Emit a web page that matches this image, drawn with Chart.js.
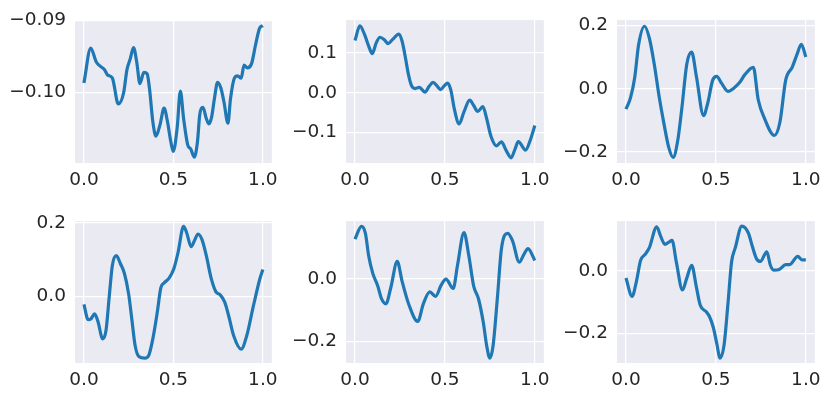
<!DOCTYPE html>
<html>
<head>
<meta charset="utf-8">
<script src="https://cdn.jsdelivr.net/npm/chart.js@4"></script>
<style>
  html, body { margin: 0; padding: 0; background: #fff; }
  #wrap { position: relative; width: 831px; height: 398px; overflow: hidden; }
  canvas { position: absolute; }
</style>
</head>
<body>
<div id="wrap"></div>
<script>
// values
const x1 = [0, 0.038, 0.069, 0.096, 0.114, 0.132, 0.159, 0.192, 0.222, 0.24, 0.259, 0.277, 0.295, 0.313, 0.335, 0.353, 0.367, 0.385, 0.403, 0.425, 0.448, 0.467, 0.485, 0.499, 0.521, 0.539, 0.557, 0.58, 0.597, 0.617, 0.635, 0.647, 0.665, 0.684, 0.698, 0.714, 0.729, 0.747, 0.765, 0.783, 0.805, 0.819, 0.841, 0.859, 0.879, 0.895, 0.913, 0.937, 0.96, 0.982, 1.0];
const y1 = [-0.09867, -0.09387, -0.09578, -0.09644, -0.0968, -0.09756, -0.098, -0.10156, -0.100, -0.09689, -0.09533, -0.09378, -0.09578, -0.09876, -0.0972, -0.0974, -0.09956, -0.104, -0.106, -0.10444, -0.10213, -0.104, -0.10667, -0.10809, -0.10489, -0.09978, -0.10356, -0.1072, -0.10778, -0.10889, -0.10667, -0.10311, -0.10204, -0.10356, -0.10431, -0.10333, -0.10089, -0.09858, -0.09933, -0.10133, -0.10422, -0.10089, -0.098, -0.09769, -0.098, -0.09622, -0.09658, -0.096, -0.09333, -0.09111, -0.09076];

const x2 = [0, 0.027, 0.054, 0.076, 0.096, 0.118, 0.139, 0.163, 0.184, 0.208, 0.244, 0.262, 0.28, 0.298, 0.316, 0.335, 0.358, 0.389, 0.412, 0.434, 0.458, 0.476, 0.497, 0.515, 0.533, 0.552, 0.579, 0.606, 0.638, 0.66, 0.682, 0.711, 0.732, 0.756, 0.787, 0.814, 0.841, 0.868, 0.89, 0.908, 0.949, 0.973, 1.0];
const y2 = [0.1306, 0.1677, 0.145, 0.117, 0.098, 0.125, 0.139, 0.133, 0.123, 0.133, 0.147, 0.129, 0.089, 0.044, 0.016, 0.0105, 0.0137, 0.0016, 0.016, 0.0258, 0.016, 0.008, 0.0177, 0.024, 0.0065, -0.040, -0.078, -0.048, -0.0185, -0.032, -0.047, -0.035, -0.0645, -0.109, -0.133, -0.123, -0.145, -0.163, -0.141, -0.1226, -0.1435, -0.121, -0.082];

const x3 = [0, 0.025, 0.049, 0.07, 0.103, 0.13, 0.157, 0.184, 0.211, 0.238, 0.262, 0.287, 0.31, 0.338, 0.365, 0.392, 0.431, 0.455, 0.482, 0.504, 0.532, 0.567, 0.599, 0.635, 0.662, 0.708, 0.735, 0.771, 0.825, 0.856, 0.888, 0.924, 0.951, 0.975, 1.0];
const y3 = [-0.064, -0.0285, 0.0377, 0.139, 0.198, 0.16, 0.0784, -0.0234, -0.11, -0.186, -0.2168, -0.166, -0.064, 0.078, 0.116, 0.0377, -0.0845, -0.044, 0.0275, 0.0397, 0.0173, -0.008, 0.002, 0.0224, 0.0458, 0.0682, -0.0336, -0.0947, -0.1476, -0.105, 0.0275, 0.0682, 0.109, 0.141, 0.1008];

const x4 = [0, 0.0235, 0.038, 0.06, 0.078, 0.105, 0.123, 0.141, 0.159, 0.181, 0.204, 0.226, 0.25, 0.268, 0.286, 0.307, 0.34, 0.363, 0.385, 0.409, 0.43, 0.448, 0.476, 0.503, 0.526, 0.557, 0.575, 0.599, 0.62, 0.638, 0.66, 0.684, 0.711, 0.738, 0.761, 0.787, 0.81, 0.837, 0.879, 0.91, 0.946, 0.982, 1.0];
const y4 = [-0.0218, -0.0638, -0.062, -0.048, -0.068, -0.116, -0.094, -0.0026, 0.0847, 0.111, 0.089, 0.0629, 0.0061, -0.0638, -0.134, -0.164, -0.1686, -0.16, -0.116, -0.0463, 0.0236, 0.0367, 0.0498, 0.076, 0.1196, 0.191, 0.172, 0.1354, 0.1546, 0.170, 0.1546, 0.111, 0.0498, 0.0122, 0.0044, -0.0157, -0.055, -0.1074, -0.144, -0.1074, -0.0288, 0.0454, 0.0734];

const x5 = [0, 0.036, 0.058, 0.076, 0.099, 0.127, 0.148, 0.172, 0.199, 0.235, 0.262, 0.298, 0.349, 0.38, 0.416, 0.448, 0.479, 0.506, 0.546, 0.57, 0.606, 0.633, 0.66, 0.687, 0.714, 0.732, 0.75, 0.768, 0.792, 0.814, 0.85, 0.877, 0.913, 0.94, 0.962, 1.0];
const y5 = [0.127, 0.168, 0.1456, 0.0738, 0.0174, -0.0236, -0.0646, -0.080, -0.0287, 0.0554, -0.0082, -0.080, -0.1364, -0.080, -0.042, -0.0564, -0.0205, -0.001, -0.0308, 0.0431, 0.1477, 0.0738, -0.0236, -0.0646, -0.1415, -0.2133, -0.254, -0.2133, -0.0595, 0.0944, 0.1456, 0.12, 0.0533, 0.079, 0.0964, 0.0585];

const x6 = [0, 0.034, 0.058, 0.081, 0.108, 0.13, 0.171, 0.193, 0.217, 0.238, 0.256, 0.28, 0.314, 0.338, 0.365, 0.392, 0.413, 0.446, 0.464, 0.486, 0.505, 0.523, 0.545, 0.567, 0.587, 0.608, 0.644, 0.681, 0.702, 0.726, 0.747, 0.783, 0.803, 0.821, 0.852, 0.888, 0.91, 0.955, 0.978, 1.0];
const y6 = [-0.0236, -0.082, -0.0338, 0.0328, 0.0533, 0.0738, 0.1405, 0.1097, 0.0841, 0.0913, 0.0974, 0.0277, -0.0615, -0.0236, 0.0174, -0.0544, -0.1108, -0.1313, -0.1467, -0.1826, -0.2338, -0.28, -0.239, -0.1056, 0.0277, 0.0738, 0.1426, 0.12, 0.079, 0.0379, 0.0297, 0.0605, 0.0174, 0.002, 0.004, 0.0195, 0.0195, 0.0462, 0.0349, 0.0349];

const xTicks = [0, 0.5, 1];
const yTicks1 = [-0.10, -0.09];
const yTicks2 = [-0.1, 0, 0.1];
const yTicks3 = [-0.2, 0, 0.2];
const yTicks4 = [0, 0.2];
const yTicks5 = [-0.2, 0];
const yTicks6 = [-0.2, 0];

const textColor = '#262626';
const font = { family: 'DejaVu Sans', size: 18.5 };
const wrap = document.getElementById('wrap');

const bgPlugin = {
  id: 'bg',
  beforeDraw(chart) {
    const a = chart.chartArea;
    const ctx = chart.ctx;
    ctx.save();
    ctx.fillStyle = '#eaeaf2';
    ctx.fillRect(a.left, a.top, a.right - a.left, a.bottom - a.top);
    ctx.restore();
  }
};

function fmt(v, d) {
  return v.toFixed(d).replace('-', '\u2212');
}

// box = left, top, width, height of the plot area
function makePanel(box, xs, ys, yTicks, yMin, yMax, digits) {
  const padL = 75, padT = 15, padR = 10, padB = 36;
  const cv = document.createElement('canvas');
  cv.width = padL + box[2] + padR;
  cv.height = padT + box[3] + padB;
  cv.style.left = (box[0] - padL) + 'px';
  cv.style.top = (box[1] - padT) + 'px';
  wrap.appendChild(cv);

  new Chart(cv, {
    type: 'line',
    data: {
      datasets: [{
        data: xs.map((x, k) => ({ x: x, y: ys[k] })),
        borderColor: '#1f77b4',
        borderWidth: 3.2,
        pointRadius: 0,
        cubicInterpolationMode: 'monotone',
        fill: false
      }]
    },
    options: {
      responsive: false,
      animation: false,
      events: [],
      layout: { padding: { left: 0, top: padT, right: padR, bottom: 0 } },
      plugins: {
        legend: { display: false },
        tooltip: { enabled: false }
      },
      scales: {
        x: {
          type: 'linear',
          min: -0.05,
          max: 1.05,
          afterFit: s => { s.height = padB; },
          afterBuildTicks: s => { s.ticks = xTicks.map(v => ({ value: v })); },
          grid: { color: '#ffffff', lineWidth: 1.2, drawTicks: false },
          border: { display: false },
          ticks: { padding: 6, color: textColor, font: font, maxRotation: 0, callback: v => fmt(v, 1) }
        },
        y: {
          min: yMin,
          max: yMax,
          afterFit: s => { s.width = padL; },
          afterBuildTicks: s => { s.ticks = yTicks.map(v => ({ value: v })); },
          grid: { color: '#ffffff', lineWidth: 1.2, drawTicks: false },
          border: { display: false },
          ticks: { padding: 9, color: textColor, font: font, callback: v => fmt(v, digits) }
        }
      }
    },
    plugins: [bgPlugin]
  });
}

makePanel([75, 15, 199, 148], x1, y1, yTicks1, -0.1097, -0.0900, 2);
makePanel([346, 15, 200, 148], x2, y2, yTicks2, -0.176, 0.182, 1);
makePanel([617, 15, 200, 148], x3, y3, yTicks3, -0.2345, 0.2174, 1);
makePanel([75, 216, 199, 147], x4, y4, yTicks4, -0.1817, 0.2052, 1);
makePanel([346, 216, 200, 147], x5, y5, yTicks5, -0.2695, 0.1846, 1);
makePanel([617, 216, 200, 147], x6, y6, yTicks6, -0.2954, 0.1588, 1);
</script>
</body>
</html>
